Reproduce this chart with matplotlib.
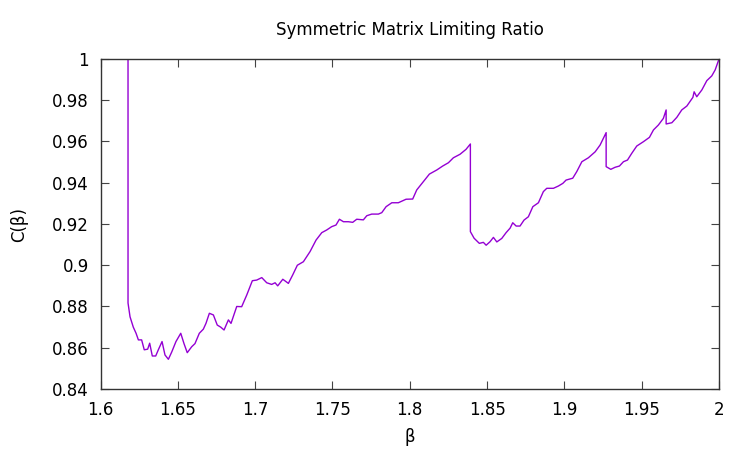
import matplotlib.pyplot as plt

# values
beta = [1.6, 1.6178, 1.6178, 1.6191, 1.6212, 1.6230, 1.6245, 1.6266, 1.6283, 1.6305,
        1.6318, 1.6335, 1.6357, 1.6374, 1.6398, 1.6417, 1.6439, 1.6461, 1.6488, 1.6519,
        1.6540, 1.6561, 1.6590, 1.6611, 1.6639, 1.6665, 1.6682, 1.6704, 1.6730, 1.6755,
        1.6777, 1.6799, 1.6827, 1.6844, 1.6881, 1.6913, 1.6946, 1.6982, 1.7010, 1.7043,
        1.7075, 1.7107, 1.7129, 1.7146, 1.7179, 1.7215, 1.7243, 1.7273, 1.7312, 1.7355,
        1.7394, 1.7431, 1.7463, 1.7495, 1.7523, 1.7545, 1.7571, 1.7603, 1.7631, 1.7657,
        1.7700, 1.7722, 1.7754, 1.7797, 1.7819, 1.7847, 1.7884, 1.7926, 1.7976, 1.8019,
        1.8045, 1.8088, 1.8127, 1.8175, 1.8213, 1.8250, 1.8282, 1.8325, 1.8364, 1.8392,
        1.8392, 1.8416, 1.8450, 1.8476, 1.8494, 1.8519, 1.8541, 1.8563, 1.8595, 1.8623,
        1.8649, 1.8666, 1.8688, 1.8713, 1.8739, 1.8767, 1.8796, 1.8832, 1.8864, 1.8886,
        1.8929, 1.8961, 1.8990, 1.9011, 1.9054, 1.9080, 1.9113, 1.9155, 1.9199, 1.9231,
        1.9270, 1.9270, 1.9300, 1.9328, 1.9356, 1.9382, 1.9408, 1.9436, 1.9468, 1.9511,
        1.9550, 1.9576, 1.9608, 1.9640, 1.9658, 1.9658, 1.9695, 1.9727, 1.9759, 1.9792,
        1.9831, 1.9839, 1.9856, 1.9889, 1.9921, 1.9953, 1.9975, 2.0]
ratio = [1.0, 1.0, 0.8817, 0.875, 0.870, 0.867, 0.8638, 0.8638, 0.859, 0.8593,
         0.8622, 0.856, 0.856, 0.859, 0.863, 0.8565, 0.8544, 0.858, 0.863, 0.867,
         0.862, 0.8576, 0.8605, 0.862, 0.867, 0.869, 0.8718, 0.8767, 0.8759, 0.871,
         0.870, 0.8686, 0.8735, 0.8718, 0.880, 0.8799, 0.8856, 0.8925, 0.8928, 0.894,
         0.8915, 0.8907, 0.8915, 0.890, 0.8932, 0.8912, 0.8953, 0.900, 0.9017, 0.9066,
         0.9122, 0.9158, 0.9171, 0.9187, 0.9195, 0.9223, 0.9211, 0.9211, 0.9208, 0.9223,
         0.922, 0.924, 0.9248, 0.9248, 0.9255, 0.9284, 0.9303, 0.9303, 0.932, 0.9321,
         0.9365, 0.9405, 0.9442, 0.9462, 0.9481, 0.9497, 0.9521, 0.9538, 0.9562, 0.9588,
         0.9163, 0.9131, 0.9106, 0.9111, 0.9097, 0.9114, 0.9135, 0.9113, 0.913, 0.9158,
         0.918, 0.9206, 0.919, 0.919, 0.9219, 0.9235, 0.9284, 0.9303, 0.9357, 0.9373,
         0.9373, 0.9384, 0.9397, 0.9413, 0.9422, 0.9454, 0.9502, 0.9521, 0.955, 0.9583,
         0.9643, 0.9478, 0.9465, 0.9475, 0.9481, 0.9502, 0.951, 0.9543, 0.9578, 0.9599,
         0.962, 0.9656, 0.968, 0.9712, 0.9753, 0.9685, 0.9691, 0.9717, 0.9753, 0.9772,
         0.9814, 0.9841, 0.9817, 0.985, 0.9895, 0.9918, 0.9947, 1.0]

xticks = [1.6, 1.65, 1.7, 1.75, 1.8, 1.85, 1.9, 1.95, 2.0]
xticklabels = ["1.6", "1.65", "1.7", "1.75", "1.8", "1.85", "1.9", "1.95", "2"]
yticks = [0.84, 0.86, 0.88, 0.9, 0.92, 0.94, 0.96, 0.98, 1.0]
yticklabels = ["0.84", "0.86", "0.88", "0.9", "0.92", "0.94", "0.96", "0.98", "1"]

fig = plt.figure(figsize=(7.5, 4.5), dpi=100)
ax = fig.add_axes([0.134, 0.1356, 0.8247, 0.7333])

ax.plot(beta, ratio, color="#9400d3", linewidth=1.0)

ax.set_xlim(1.6, 2.0)
ax.set_ylim(0.84, 1.0)
ax.set_xticks(xticks)
ax.set_xticklabels(xticklabels)
ax.set_yticks(yticks)
ax.set_yticklabels(yticklabels)
ax.tick_params(direction="in", length=6, width=0.8, top=True, right=True,
               labelsize=12, colors="#444444", labelcolor="black")
ax.tick_params(axis="x", pad=9)
ax.tick_params(axis="y", pad=8.5)
for s in ax.spines.values():
    s.set_color("#333333")
    s.set_linewidth(1.0)

fig.text(0.547, 0.933, "Symmetric Matrix Limiting Ratio", ha="center", va="center", fontsize=12)
fig.text(0.547, 0.029, "β", ha="center", va="center", fontsize=12)
fig.text(0.026, 0.5, "C(β)", ha="center", va="center", rotation=90, fontsize=12)

plt.savefig("out.png", dpi=100)
plt.close()
